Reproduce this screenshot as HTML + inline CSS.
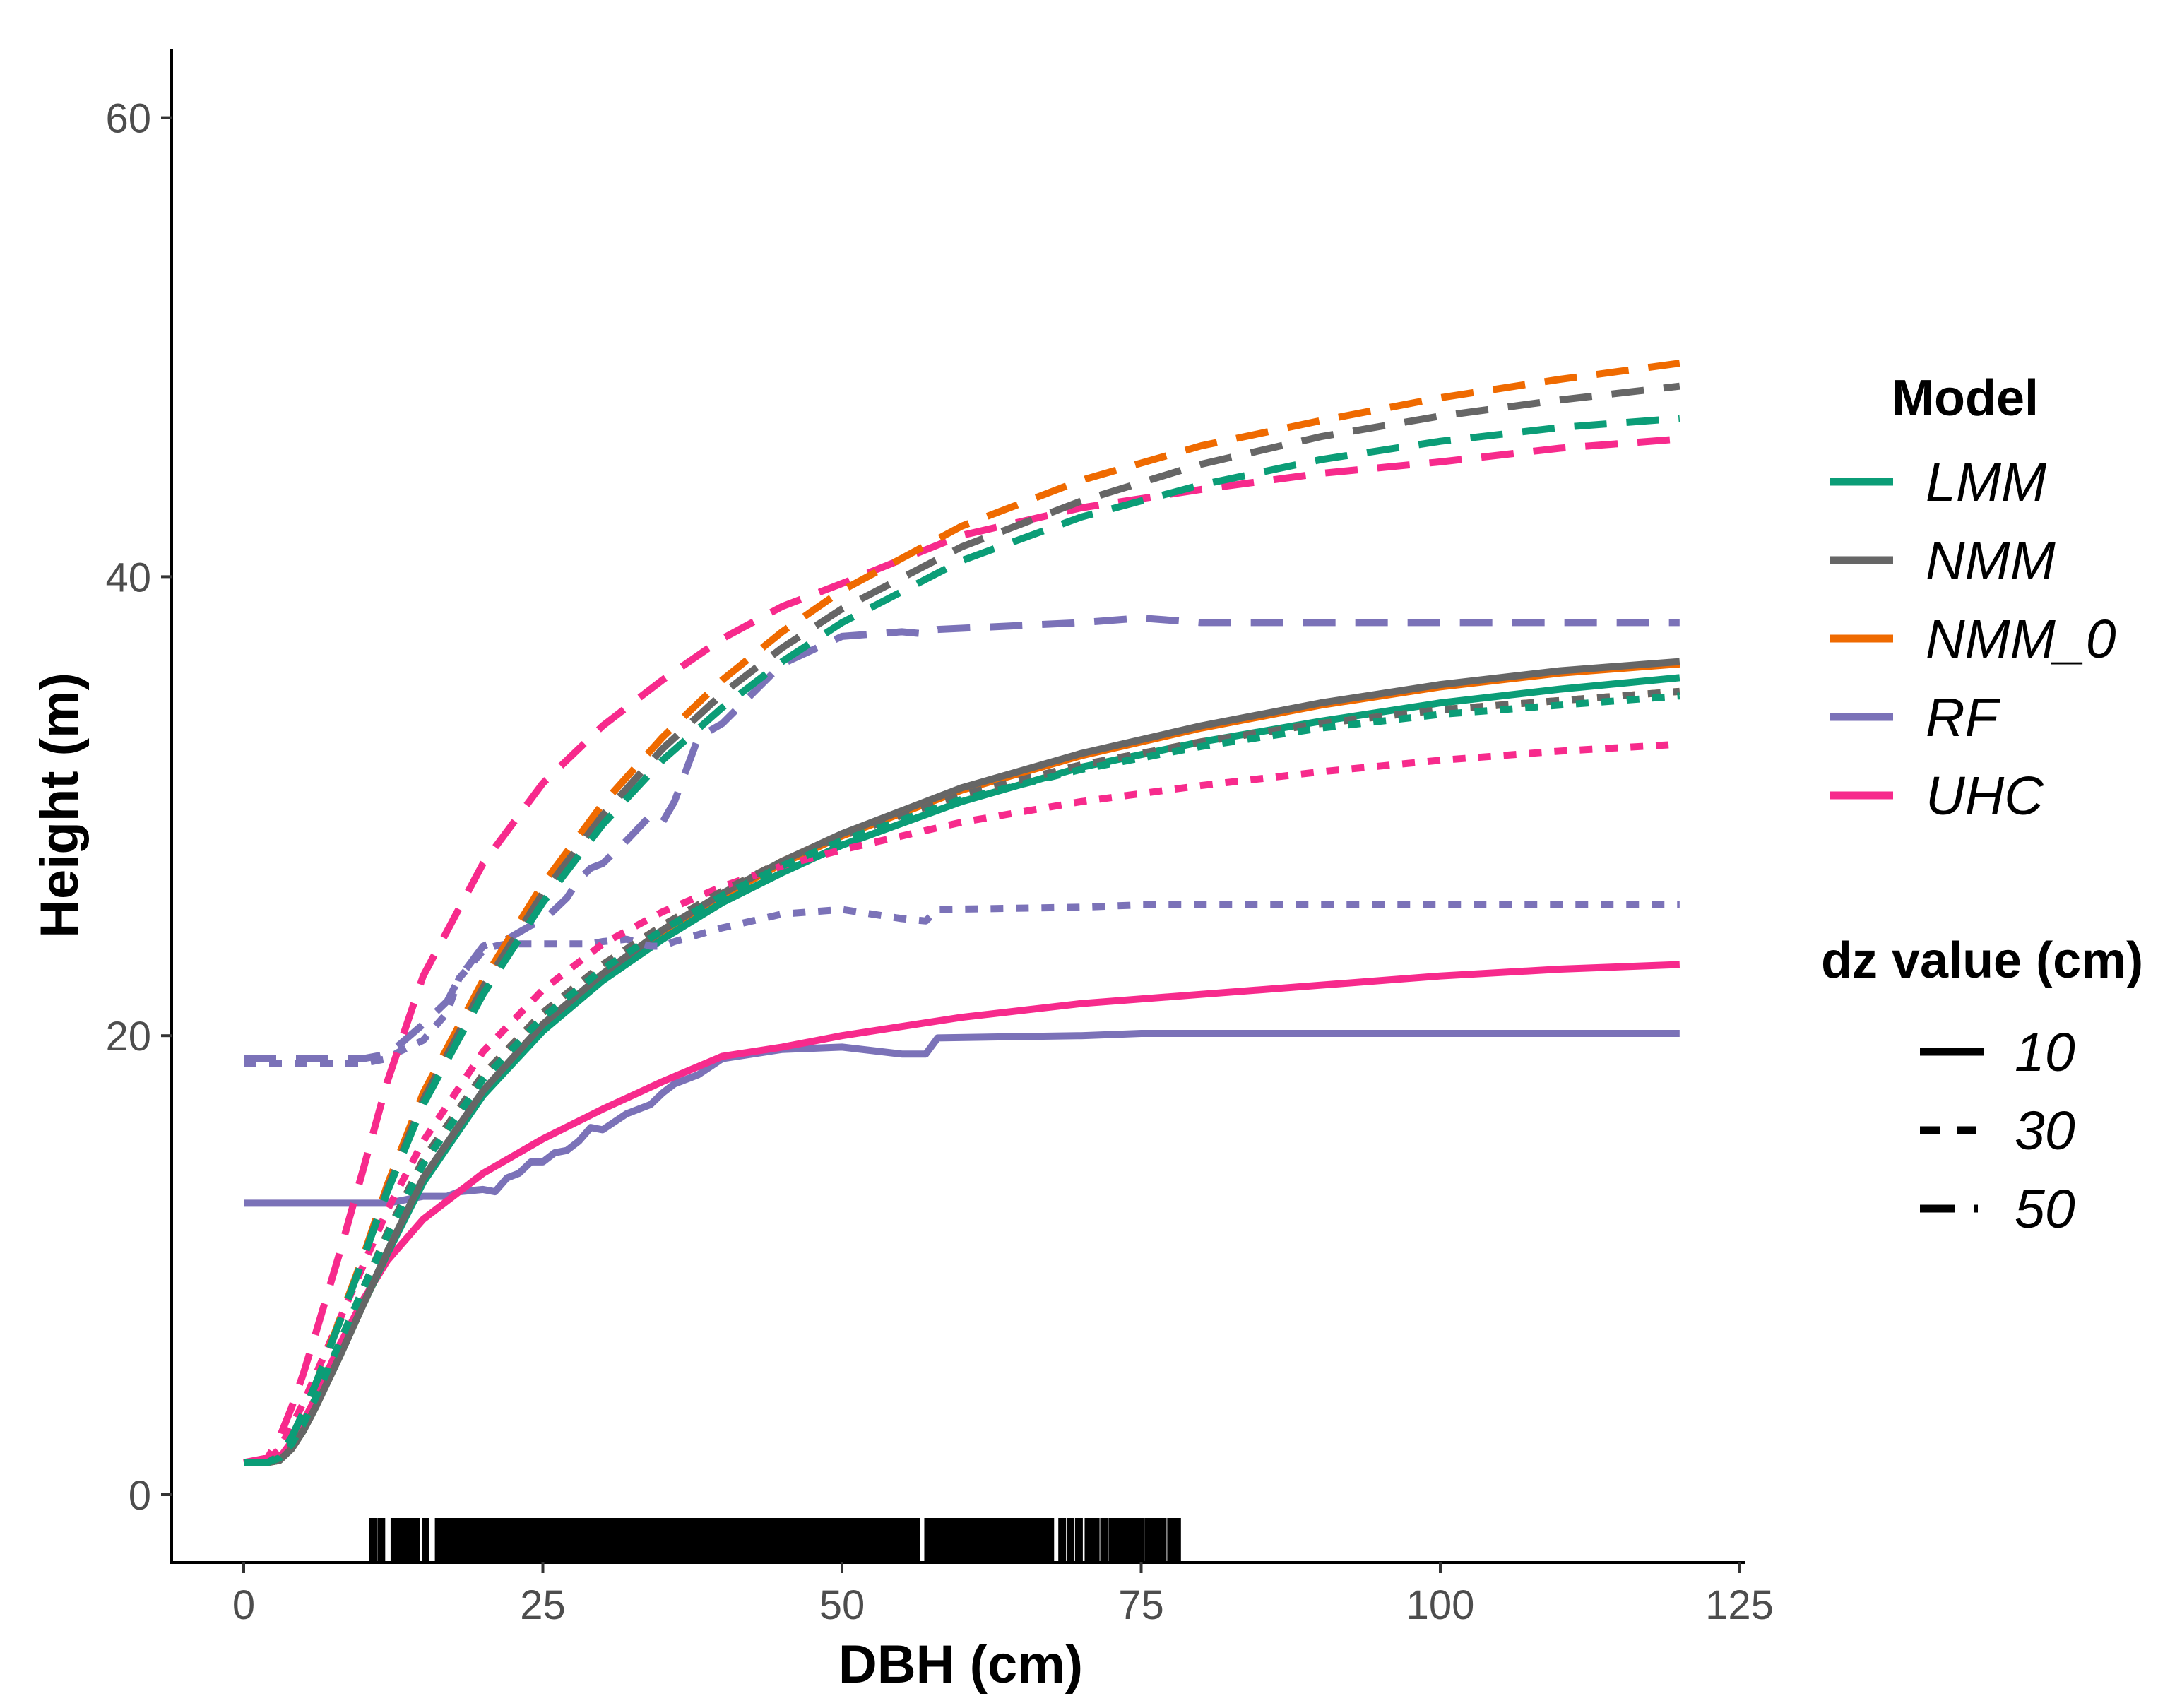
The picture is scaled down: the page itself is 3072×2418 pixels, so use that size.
<!DOCTYPE html>
<html><head><meta charset="utf-8">
<style>
html,body{margin:0;padding:0;background:#fff;}
svg{display:block;font-family:"Liberation Sans",Arial,sans-serif;}
</style></head>
<body>
<svg id="chart" width="3072" height="2418" viewBox="0 0 3072 2418" xmlns="http://www.w3.org/2000/svg">
<rect x="0" y="0" width="3072" height="2418" fill="#fff"/>
<g id="marks"></g>
<g id="axes"></g>
<g id="legend"></g>
</svg>
<script>
const xGrid = [0,2,3,4,5,6,8,10,12,15,20,25,30,35,40,45,50,60,70,80,90,100,110,120];
const lmm10 = [1.4,1.4,1.5,2,2.8,3.8,6,8.3,10.5,13.6,17.4,20.2,22.4,24.2,25.8,27.1,28.3,30.2,31.7,32.8,33.7,34.5,35.1,35.6];
const nmm10 = [1.4,1.4,1.5,2,2.8,3.8,6,8.3,10.6,13.8,17.6,20.5,22.7,24.6,26.2,27.6,28.8,30.8,32.3,33.5,34.5,35.3,35.9,36.3];
const nmm0_10 = [1.4,1.4,1.5,2,2.8,3.8,6,8.3,10.5,13.7,17.5,20.4,22.6,24.5,26.1,27.5,28.7,30.7,32.2,33.4,34.4,35.2,35.8,36.2];
const uhc10 = [1.4,1.4,1.6,2.3,3.2,4.2,6.5,8.5,10.2,12,14,15.5,16.8,18,19.1,19.5,20,20.8,21.4,21.8,22.2,22.6,22.9,23.1];
const lmm30 = [1.4,1.4,1.6,2.2,3.1,4.2,6.6,9,11.3,14.4,18.1,20.8,22.9,24.6,26.1,27.4,28.5,30.3,31.6,32.6,33.4,34,34.4,34.8];
const nmm30 = [1.4,1.4,1.6,2.2,3.1,4.2,6.6,9,11.4,14.6,18.3,21,23.1,24.8,26.3,27.6,28.7,30.5,31.8,32.8,33.6,34.2,34.6,35];
const nmm0_30 = [1.4,1.4,1.6,2.2,3.1,4.2,6.6,9,11.4,14.6,18.3,21,23.1,24.8,26.3,27.6,28.7,30.5,31.8,32.8,33.6,34.2,34.6,35];
const uhc30 = [1.4,1.5,2,3,4,5.2,7.6,10,12.4,15.4,19.3,22,24,25.4,26.5,27.4,28.1,29.3,30.2,30.9,31.5,32,32.4,32.7];
const lmm50 = [1.4,1.4,1.7,2.5,3.6,4.8,7.5,10.3,13.2,17,21.8,25.8,29.2,32,34.3,36.3,38,40.7,42.6,44,45.1,45.9,46.5,46.9];
const nmm50 = [1.4,1.4,1.7,2.5,3.6,4.8,7.5,10.3,13.3,17.2,22.1,26.2,29.6,32.5,34.9,36.9,38.6,41.3,43.3,44.9,46.1,47,47.7,48.3];
const nmm0_50 = [1.4,1.4,1.7,2.5,3.6,4.8,7.6,10.4,13.5,17.5,22.4,26.6,30.1,33,35.5,37.6,39.4,42.2,44.2,45.7,46.8,47.8,48.6,49.3];
const uhc50 = [1.4,1.6,2.5,3.8,5.3,7,10.5,14.2,18,22.6,27.5,31,33.5,35.5,37.3,38.7,39.7,41.8,43,43.8,44.5,45,45.6,46];
const rfX = [0,10,12,13,15,17,18,20,21,22,23,24,25,26,27,28,29,30,32,34,35,36,38,40,45,50,55,57,58,70,75,80,120];
const rf10 = [12.7,12.7,12.7,12.8,13,13,13.2,13.3,13.2,13.8,14,14.5,14.5,14.9,15,15.4,16,15.9,16.6,17,17.5,17.9,18.3,19,19.4,19.5,19.2,19.2,19.9,20,20.1,20.1,20.1];
const rf30 = [18.8,18.8,19,19.3,19.8,21,22.5,23.7,23.9,24,24,24,24,24,24,24,24,24.1,24.2,23.9,23.9,24.1,24.4,24.7,25.3,25.5,25.1,25.0,25.5,25.6,25.7,25.7,25.7];
const rf50 = [19,19,19.2,19.6,20.5,21.5,22.5,23.9,24.1,24.2,24.5,24.8,25,25.5,26,26.8,27.3,27.5,28.5,29.6,29.3,30.2,33,33.6,36.2,37.4,37.6,37.5,37.7,38,38.2,38,38];
const modelNames = ["LMM","NMM","NMM_0","RF","UHC"];
const dzLabels = ["10","30","50"];
const xTicks = [0,25,50,75,100,125];
const yTicks = [0,20,40,60];
const rugValues = [10.8,11.5,12.6,13.2,13.8,14.4,15.2,16.3,16.9,17.5,18.1,18.7,19.3,19.9,20.5,21.1,21.7,22.3,22.9,23.5,24.1,24.7,25.3,25.9,26.5,27.1,27.7,28.3,28.9,29.5,30.1,30.7,31.3,31.9,32.5,33.1,33.7,34.3,34.9,35.5,36.1,36.7,37.3,37.9,38.5,39.1,39.7,40.3,40.9,41.5,42.1,42.7,43.3,43.9,44.5,45.1,45.7,46.3,46.9,47.5,48.1,48.7,49.3,49.9,50.5,51.1,51.7,52.3,52.9,53.5,54.1,54.7,55.3,55.9,56.2,57.2,57.8,58.4,59,59.6,60.2,60.8,61.4,62,62.6,63.2,63.8,64.4,65,65.6,66.2,66.8,67.4,68.4,69.1,69.8,70.6,71.2,71.9,72.6,73.1,73.7,74.3,74.9,75.6,76.2,76.8,77.5,78];

const NS = "http://www.w3.org/2000/svg";
const X0 = 345, XPU = 16.94, Y0 = 2116, YPU = 32.49;
function sx(v){ return X0 + v*XPU; }
function sy(v){ return Y0 - v*YPU; }
function mk(tag, attrs, parent){ const e=document.createElementNS(NS,tag); for(const k in attrs) e.setAttribute(k,attrs[k]); parent.appendChild(e); return e; }

const colors = {LMM:"#0b9d77",NMM:"#666666",NMM_0:"#ef6a00",RF:"#7b72b8",UHC:"#f72a8c"};
const dashes = {"10":"none","30":"18 18","50":"46 28"};
const marks = document.getElementById("marks");
const series = [
 ["RF","10",rfX,rf10],["UHC","10",xGrid,uhc10],["NMM_0","10",xGrid,nmm0_10],["LMM","10",xGrid,lmm10],["NMM","10",xGrid,nmm10],
 ["RF","30",rfX,rf30],["UHC","30",xGrid,uhc30],["NMM_0","30",xGrid,nmm0_30],["NMM","30",xGrid,nmm30],["LMM","30",xGrid,lmm30],
 ["RF","50",rfX,rf50],["UHC","50",xGrid,uhc50],["NMM_0","50",xGrid,nmm0_50],["NMM","50",xGrid,nmm50],["LMM","50",xGrid,lmm50]
];
series.forEach(s=>{
  const d = s[2].map((x,i)=>(i?"L":"M")+sx(x).toFixed(1)+" "+sy(s[3][i]).toFixed(1)).join(" ");
  const p = mk("path",{d:d,fill:"none",stroke:colors[s[0]],"stroke-width":10,"stroke-dasharray":dashes[s[1]],"stroke-linejoin":"round"},marks);
  
  
});
rugValues.forEach(v=>{
  const r = mk("line",{x1:sx(v),x2:sx(v),y1:2149,y2:2210,stroke:"#000","stroke-width":11},marks);
  
  
});
const ax = document.getElementById("axes");
let e;
e = mk("line",{x1:243,x2:243,y1:69,y2:2213,stroke:"#000","stroke-width":4},ax);
 
e = mk("line",{x1:241,x2:2470,y1:2212,y2:2212,stroke:"#000","stroke-width":4},ax);
 
xTicks.forEach(t=>{
  e = mk("line",{x1:sx(t),x2:sx(t),y1:2212,y2:2227,stroke:"#333","stroke-width":4},ax);
   
  e = mk("text",{x:sx(t),y:2292,"text-anchor":"middle","font-size":58,fill:"#4d4d4d"},ax);
  e.textContent = t;
   
});
yTicks.forEach(t=>{
  e = mk("line",{x1:228,x2:243,y1:sy(t),y2:sy(t),stroke:"#333","stroke-width":4},ax);
   
  e = mk("text",{x:214,y:sy(t)+21,"text-anchor":"end","font-size":58,fill:"#4d4d4d"},ax);
  e.textContent = t;
   
});
e = mk("text",{x:1360,y:2382,"text-anchor":"middle","font-size":76,"font-weight":"bold",fill:"#000"},ax);
e.textContent = "DBH (cm)";
 
e = mk("text",{x:0,y:0,"text-anchor":"middle","font-size":76,"font-weight":"bold",fill:"#000",transform:"translate(110 1140) rotate(-90)"},ax);
e.textContent = "Height (m)";
 

const lg = document.getElementById("legend");
e = mk("text",{x:2678,y:588,"font-size":72,"font-weight":"bold",fill:"#000"},lg);
e.textContent = "Model";
 
modelNames.forEach((m,i)=>{
  const y = 682 + i*111;
  e = mk("line",{x1:2590,x2:2680,y1:y,y2:y,stroke:colors[m],"stroke-width":11},lg);
   
  e = mk("text",{x:2726,y:y+27,"font-size":77,"font-style":"italic",fill:"#000"},lg);
  e.textContent = m;
   
});
e = mk("text",{x:2578,y:1384,"font-size":72,"font-weight":"bold",fill:"#000"},lg);
e.textContent = "dz value (cm)";
 
dzLabels.forEach((d,i)=>{
  const y = 1489 + i*111;
  e = mk("line",{x1:2718,x2:2808,y1:y,y2:y,stroke:"#000","stroke-width":11,"stroke-dasharray":d==="10"?"none":(d==="30"?"28 24":"50 26 6 100")},lg);
   
  e = mk("text",{x:2852,y:y+27,"font-size":77,"font-style":"italic",fill:"#000"},lg);
  e.textContent = d;
   
});
</script>
</body></html>
